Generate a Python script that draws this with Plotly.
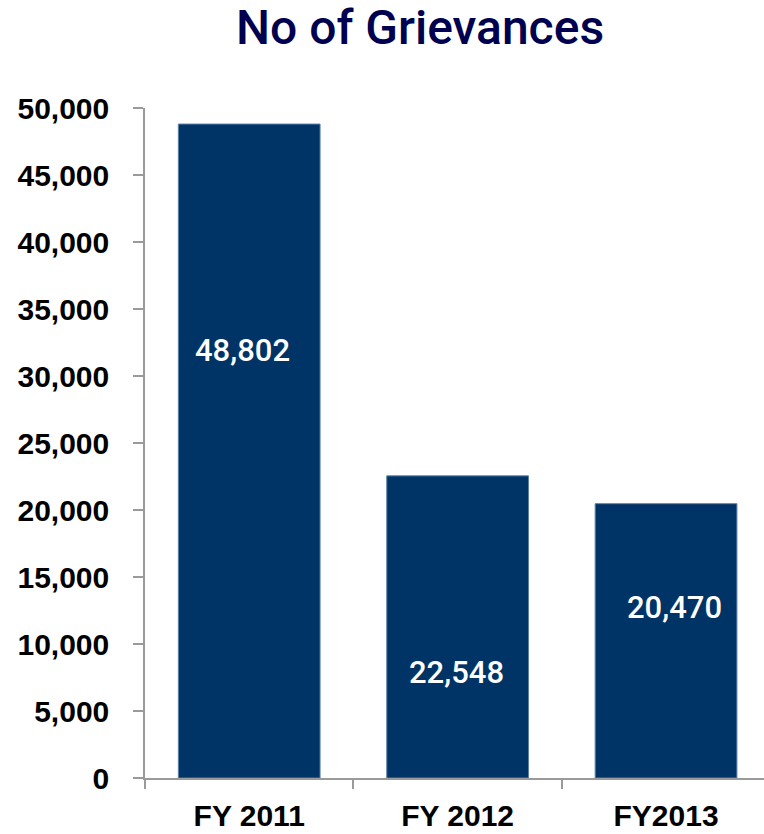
import plotly.graph_objects as go

categories = ["FY 2011", "FY 2012", "FY2013"]
grievances = [48802, 22548, 20470]
label_texts = ["48,802", "22,548", "20,470"]
label_y = [31940, 7910, 12760]
y_ticks = [0, 5000, 10000, 15000, 20000, 25000, 30000, 35000, 40000, 45000, 50000]

BAR = "#003366"
AXIS = "#9a9a9a"
FONT = "Liberation Sans, Arial, sans-serif"
MED = "Roboto, Liberation Sans, Arial, sans-serif"

fig = go.Figure()
fig.add_trace(go.Bar(
    x=categories, y=grievances,
    marker=dict(color=BAR, line=dict(color="#5b7fa6", width=1)),
    width=0.68, hoverinfo="skip",
))

for c, t, ly, dx in zip(categories, label_texts, label_y, [-7, -1, 8]):
    fig.add_annotation(x=c, y=ly, text=t, showarrow=False, xshift=dx,
                       font=dict(family=MED, size=31, color="white", weight=500))

fig.update_layout(
    width=764, height=834,
    margin=dict(l=145, r=0, t=108, b=56, autoexpand=False),
    paper_bgcolor="white", plot_bgcolor="white",
    showlegend=False,
    font=dict(family=FONT, color="black"),
    title=dict(text="No of Grievances", x=420/764, xanchor="center",
               yref="container", y=1-27/834, yanchor="middle",
               font=dict(family=MED, size=48, color="#000050", weight=500)),
    bargap=0.32,
)
fig.update_xaxes(
    automargin=False, range=[-0.5, 2.47],
    showline=True, linecolor=AXIS, linewidth=1.5,
    ticks="outside", ticklen=9, tickcolor=AXIS, tickwidth=1.5,
    tickson="boundaries", showgrid=False, zeroline=False,
    tickfont=dict(family=FONT, size=30, color="black", weight="bold"),
    ticklabelstandoff=10,
)
fig.update_yaxes(
    automargin=False,
    range=[0, 50000], tickvals=y_ticks, tickformat=",d",
    showline=True, linecolor=AXIS, linewidth=1.5,
    ticks="outside", ticklen=10, tickcolor=AXIS, tickwidth=1.5,
    showgrid=False, zeroline=False,
    tickfont=dict(family=FONT, size=30, color="black", weight="bold"),
    ticklabelstandoff=18,
)

fig.write_html("out.html", config={"displayModeBar": False},
               post_script="document.body.style.margin='0';document.body.style.overflow='hidden';")
